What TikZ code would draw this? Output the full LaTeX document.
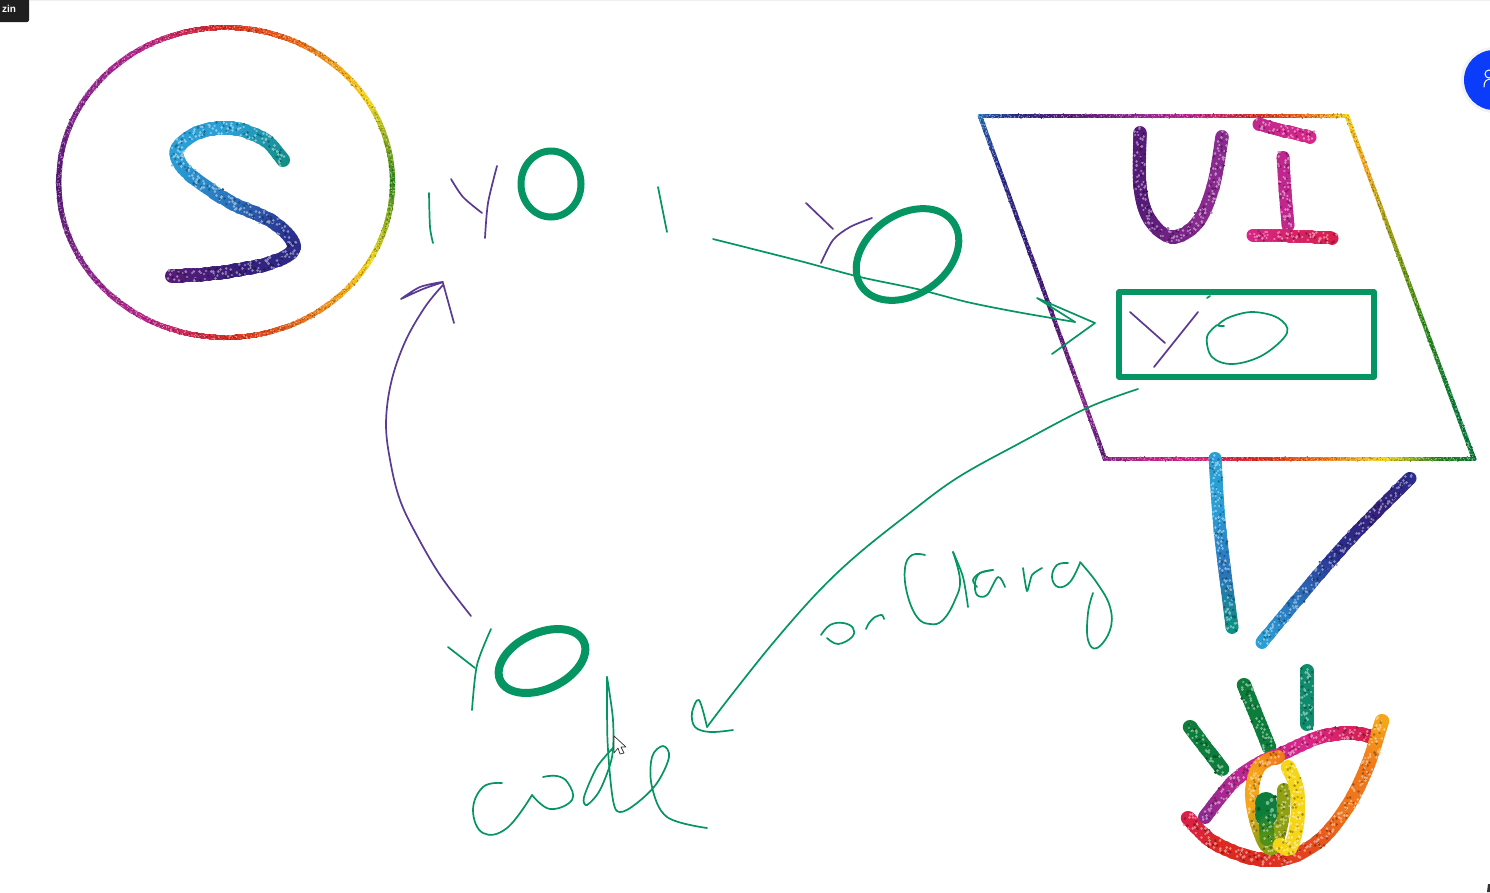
\documentclass[tikz,border=0pt]{standalone}
\usepackage{fontspec}
\setmainfont{Liberation Sans}
\definecolor{gdkpurple}{HTML}{561A78}
\definecolor{gpurple}{HTML}{8A2A90}
\definecolor{gmagenta}{HTML}{BF278F}
\definecolor{gpink}{HTML}{D8268A}
\definecolor{gcrimson}{HTML}{D81F4E}
\definecolor{gred}{HTML}{DD2A20}
\definecolor{gredor}{HTML}{E44A1D}
\definecolor{gorange}{HTML}{EF761A}
\definecolor{gamber}{HTML}{F5A51A}
\definecolor{gyellow}{HTML}{F5D516}
\definecolor{golive}{HTML}{8FA012}
\definecolor{ggreen}{HTML}{2F8A1E}
\definecolor{ggrnol}{HTML}{4F9018}
\definecolor{gdkgreen}{HTML}{0C7D3A}
\definecolor{gteal}{HTML}{0F8F85}
\definecolor{gtealgr}{HTML}{0E8A6C}
\definecolor{gcyan}{HTML}{2A9FD6}
\definecolor{gblue}{HTML}{2A75BD}
\definecolor{gnavy}{HTML}{2A2F8F}
\definecolor{gindigo}{HTML}{35207A}
\definecolor{inkgreen}{HTML}{059562}
\definecolor{inkpurple}{HTML}{5A3A92}
\definecolor{zoomblue}{HTML}{0A3CFA}
\tikzset{
  penline/.style={line width=1.7pt,line cap=round,line join=round},
  greenpen/.style={penline,draw=inkgreen},
  purplepen/.style={penline,draw=inkpurple},
  fatgreen/.style={draw=inkgreen,line width=7pt,line join=round,line cap=round},
}
% glitter strokes: spline through points, colour running along the list of colours
\newcommand\glitcolour{%
  \pgfmathtruncatemacro\gi{min(int(\gp),\gcnum-1)}%
  \pgfmathtruncatemacro\gj{\gi+1}%
  \pgfmathtruncatemacro\gq{max(0,min(100,100-100*(\gp-\gi)))}%
  \edef\gmix{\csname gcn\gi\endcsname!\gq!\csname gcn\gj\endcsname}%
  \colorlet{gcur}{\gmix}%
}
\newcommand\glitdisc{\draw[gcur] (\hx,\hy) -- ++(0.02,0);}
\newcommand\glitspeck{%
  \pgfmathsetmacro\pax{\hx+(rnd-.5)*\gw*.85}\pgfmathsetmacro\pay{\hy+(rnd-.5)*\gw*.85}%
  \pgfmathsetmacro\pbx{\hx+(rnd-.5)*\gw*.85}\pgfmathsetmacro\pby{\hy+(rnd-.5)*\gw*.85}%
  \draw[gcur!70!black] (\pax,\pay) -- ++(0.02,0);
  \ifdim\gw pt>8pt
    \pgfmathsetmacro\pcx{\hx+(rnd-.5)*\gw*.85}\pgfmathsetmacro\pcy{\hy+(rnd-.5)*\gw*.85}%
    \draw[gcur!55!white] (\pbx,\pby) -- ++(0.02,0) (\pcx,\pcy) -- ++(0.02,0);
  \else
    \draw[gcur!55!white] (\pbx,\pby) -- ++(0.02,0);
  \fi}
\newcommand\glitrun[1]{%
  \xdef\gsofar{0}%
  \foreach \k in {1,...,\gnm}{%
    \pgfmathtruncatemacro\ka{\k-1}\pgfmathtruncatemacro\kc{\k+1}\pgfmathtruncatemacro\kd{\k+2}%
    \edef\xb{\csname gx\k\endcsname}\edef\yb{\csname gy\k\endcsname}%
    \pgfmathsetmacro\ax{\csname gx\ka\endcsname-\xb}\pgfmathsetmacro\ay{\csname gy\ka\endcsname-\yb}%
    \pgfmathsetmacro\cx{\csname gx\kc\endcsname-\xb}\pgfmathsetmacro\cy{\csname gy\kc\endcsname-\yb}%
    \pgfmathsetmacro\dx{\csname gx\kd\endcsname-\xb}\pgfmathsetmacro\dy{\csname gy\kd\endcsname-\yb}%
    \pgfmathsetmacro\gd{veclen(\cx,\cy)}%
    \pgfmathtruncatemacro\gN{max(1,round(\gd/\gstep))}%
    \foreach \m in {0,...,\gN}{%
      \pgfmathsetmacro\gt{\m/\gN}%
      \pgfmathsetmacro\hx{\xb+.5*((\cx-\ax)*\gt+(2*\ax+4*\cx-\dx)*\gt*\gt+(\dx-\ax-3*\cx)*\gt*\gt*\gt)}%
      \pgfmathsetmacro\hy{\yb+.5*((\cy-\ay)*\gt+(2*\ay+4*\cy-\dy)*\gt*\gt+(\dy-\ay-3*\cy)*\gt*\gt*\gt)}%
      \pgfmathsetmacro\gp{(\gsofar+\gd*\gt)/\gL*\gcnum}%
      \glitcolour #1%
    }%
    \pgfmathsetmacro\gtmp{\gsofar+\gd}\xdef\gsofar{\gtmp}%
  }%
}
\newcommand\glit[3]{%
  \def\gw{#1}\pgfmathsetmacro\gs{0.7+#1*0.14}%
  \pgfmathsetmacro\gstep{max(1.7,#1/4)}%
  \foreach \c [count=\i from 0] in {#2} {\expandafter\xdef\csname gcn\i\endcsname{\c}\xdef\gcnum{\i}}%
  \edef\glist{#3}%
  \foreach \px/\py [count=\k from 1] in \glist {%
    \expandafter\xdef\csname gx\k\endcsname{\px}\expandafter\xdef\csname gy\k\endcsname{\py}\xdef\gnp{\k}}%
  \expandafter\xdef\csname gx0\endcsname{\csname gx1\endcsname}%
  \expandafter\xdef\csname gy0\endcsname{\csname gy1\endcsname}%
  \pgfmathtruncatemacro\gnq{\gnp+1}\pgfmathtruncatemacro\gnm{\gnp-1}%
  \expandafter\xdef\csname gx\gnq\endcsname{\csname gx\gnp\endcsname}%
  \expandafter\xdef\csname gy\gnq\endcsname{\csname gy\gnp\endcsname}%
  \xdef\gL{0}%
  \foreach \k in {1,...,\gnm}{%
    \pgfmathtruncatemacro\kc{\k+1}%
    \pgfmathsetmacro\gtmp{\gL+veclen(\csname gx\kc\endcsname-\csname gx\k\endcsname,\csname gy\kc\endcsname-\csname gy\k\endcsname)}%
    \xdef\gL{\gtmp}}%
  \begin{scope}[line cap=round,line width=#1 pt]\glitrun{\glitdisc}\end{scope}%
  \begin{scope}[line cap=round,line width=\gs pt]\glitrun{\glitspeck}\end{scope}%
}
\begin{document}
\begin{tikzpicture}[x=1pt,y=-1pt]
\pgfmathsetseed{7}
\clip[use as bounding box] (0,0) rectangle (1490,892);
\fill[white] (0,0) rectangle (1490,892);
\draw[gray!12,line width=.8pt] (29,0.5) -- (1490,0.5);
% top-left badge
\fill[black!88,rounded corners=2pt] (-5,-5) rectangle (29,22);
\node[text=white,font=\bfseries\fontsize{10}{12}\selectfont,inner sep=0pt] (badge) at (9,8.5) {zin};
% blue round button
\fill[gray!10] (1494,80) circle (33);
\fill[zoomblue] (1494,80) circle (30);
\draw[white,line width=1pt] (1489,74) circle (4);
\draw[white,line width=1pt,line cap=round] (1484,87) .. controls (1484,81) and (1486,80) .. (1490,79);
% S circle
\xdef\circlist{58.5/182.5}
\foreach \a in {10,20,...,360}{%
  \pgfmathsetmacro\qx{225.5-167*cos(\a)}\pgfmathsetmacro\qy{182.5-155*sin(\a)}%
  \xdef\circlist{\circlist,\qx/\qy}}
\glit{5.5}{gdkpurple,gpurple,gmagenta,gred,gorange,gyellow,ggreen,gyellow,gorange,gred,gmagenta,gpurple,gdkpurple}{\circlist}
\glit{14}{gteal,gcyan,gcyan,gblue,gnavy,gindigo,gdkpurple}
  {283/160,265/140,232/128,200/132,180/145,177/157,190/175,230/202,273/222,294/247,270/263,217/273,172/276}
% UI panel
\glit{4.5}{gblue,gnavy,gdkpurple,gpurple,gmagenta,gred,gorange,gyellow}{980/116,1347/116}
\glit{4.5}{gblue,gnavy,gindigo,gdkpurple,gpurple,gdkpurple}{980/116,1105/459}
\glit{4.5}{gyellow,gamber,golive,ggreen,gdkgreen,gdkgreen}{1347/116,1474/459}
\glit{4.5}{gpurple,gmagenta,gpink,gred,gorange,gyellow,ggreen,gdkgreen}{1105/459,1474/459}
\glit{13.5}{gdkpurple,gdkpurple,gpurple,gpurple}{1140/133,1140/187,1150/220,1172/237,1197/223,1213/187,1222/137}
\glit{13}{gmagenta,gpink}{1259/124,1285/131,1310/137}
\glit{13}{gmagenta,gmagenta}{1283/157,1285/190,1288/225}
\glit{13}{gpink,gcrimson}{1253/235,1290/236,1332/238}
% input box
\draw[draw=inkgreen,line width=5.5pt,line join=round] (1119,292) rectangle (1374,377);
\draw[greenpen] (1207,298) -- (1210,296);
\draw[purplepen] (1130,312) -- (1165,343);
\draw[purplepen] (1198,312) -- (1154,367);
\draw[greenpen] plot[smooth,tension=.6] coordinates {(1217,325)(1207,337)(1212,357)(1233,364)(1263,355)(1287,333)(1278,318)(1253,312)(1230,317)(1218,325)(1224,326)};
% stand
\glit{13}{gcyan,gcyan,gblue,gteal}{1215/458,1220/530,1232/627}
\glit{13}{gnavy,gindigo,gnavy,gblue,gcyan}{1410/478,1340/550,1262/642}
% eye
\glit{14.5}{gdkgreen,gdkgreen}{1190/727,1222/769}
\glit{14.5}{gdkgreen,gdkgreen}{1244/685,1269/747}
\glit{14}{gtealgr,gtealgr}{1307/671,1307/724}
\glit{14}{gpurple,gmagenta,gpink,gcrimson}{1205/817,1233/782,1260/763,1283/753,1320/737,1350/733,1370/736}
\glit{14.5}{gcrimson,gred,gred,gredor,gorange,gorange,gamber}{1188/818,1213/842,1253/858,1287/858,1320/840,1347/807,1367/767,1382/721}
\glit{14}{gorange,gamber,gamber,golive,golive,golive}{1278/757,1260/765,1252/790,1256/820,1266/845,1275/845,1282/820,1284/790}
\glit{14.5}{gyellow,gyellow}{1288/767,1297/790,1297/823,1290/848,1280/845}
\glit{22}{gdkgreen,gdkgreen}{1266/803,1266/815}
\glit{15}{gdkgreen,ggrnol}{1266/818,1267/838}
% first Y O group
\draw[greenpen] plot[smooth] coordinates {(429,193)(430,227)(433,243)};
\draw[purplepen] plot[smooth] coordinates {(451,179)(463,197)(482,213)};
\draw[purplepen] plot[smooth] coordinates {(497,166)(488,203)(485,238)};
\draw[fatgreen] (551,184) ellipse (30 and 33);
\draw[greenpen] (658,187) -- (667,232);
% second Y O
\draw[purplepen] (806,203) -- (833,229);
\draw[purplepen] plot[smooth] coordinates {(872,218)(850,227)(833,240)(821,263)};
\draw[fatgreen] (907.5,254.5) ellipse [x radius=56,y radius=40,rotate=35];
% arrow into the box
\draw[greenpen] plot[smooth,tension=.5] coordinates {(713,239)(800,261)(860,277)(917,289)(967,302)(1017,312)(1075,322)};
\draw[greenpen] (1075,322) -- (1037,298) -- (1095,323) -- (1052,354);
% onChange arrow
\draw[greenpen] plot[smooth,tension=.6] coordinates {(1138,389)(1087,408)(1020,443)(957,478)(907,515)(857,555)(817,593)(773,643)(733,693)(707,727)};
\draw[greenpen] plot[smooth,tension=.6] coordinates {(707,727)(699,700)(692,713)(695,727)(710,732)(733,730)};
% purple arrow
\draw[purplepen] plot[smooth,tension=.6] coordinates {(471,616)(440,575)(415,532)(400,500)(391,465)(386,425)(391,383)(405,342)(425,307)(443,285)};
\draw[purplepen] plot[smooth,tension=.5] coordinates {(401,299)(420,287)(443,282)(423,289)(401,299)};
\draw[purplepen] (443,283) -- (454,323);
% bottom Y O
\draw[greenpen] (448,647) -- (475,668);
\draw[greenpen] plot[smooth] coordinates {(491,629)(477,665)(472,710)};
\draw[fatgreen,line width=8pt] (542,661) ellipse [x radius=46,y radius=28,rotate=25];
% code
\draw[greenpen] plot[smooth,tension=.7] coordinates {(502,783)(483,787)(473,810)(483,833)(507,828)(532,795)};
\draw[greenpen] plot[smooth,tension=.7] coordinates {(532,795)(550,809)(572,800)(568,783)(557,776)(543,777)};
\draw[greenpen] plot[smooth,tension=.5] coordinates {(613,748)(597,767)(584,797)(587,805)(600,790)(612,757)(613,720)(607,677)};
\draw[greenpen] plot[smooth,tension=.6] coordinates {(607,677)(607,710)(608,750)(613,800)(620,812)(637,803)(657,783)(669,757)(663,746)(652,757)(652,787)(667,817)(707,828)};
% on Chang
\draw[greenpen] plot[smooth,tension=.7] coordinates {(821,635)(830,625)(843,623)(853,628)(852,637)(838,644)(827,638)};
\draw[greenpen] plot[smooth,tension=.5] coordinates {(866,629)(869,623)(875,617)(882,615)(884,619)};
\draw[greenpen] plot[smooth,tension=.7] coordinates {(925,555)(912,555)(905,568)(907,593)(917,617)(930,624)(943,620)(955,600)(960,580)(953,552)};
\draw[greenpen] plot[smooth] coordinates {(953,552)(963,577)(968,607)};
\draw[greenpen] plot[smooth,tension=.6] coordinates {(977,587)(973,580)(980,573)(993,570)};
\draw[greenpen] plot[smooth,tension=.6] coordinates {(993,570)(980,573)(975,583)(977,595)(987,595)(998,577)(1005,587)};
\draw[greenpen] plot[smooth,tension=.4] coordinates {(1023,568)(1027,591)(1032,575)(1042,568)};
\draw[greenpen] plot[smooth,tension=.7] coordinates {(1068,563)(1057,565)(1052,577)(1058,587)(1070,582)(1080,563)};
\draw[greenpen] plot[smooth,tension=.7] coordinates {(1080,562)(1097,583)(1110,607)(1110,630)(1097,648)(1088,640)(1088,613)(1093,593)};
% mouse pointer
\draw[black!80,fill=white,line width=.7pt,line join=round] (614,736) -- (626,747) -- (621,747) -- (624,753) -- (620,754) -- (618,748) -- (614,753) -- cycle;
\fill[black!80] (1487,892) -- (1488,884) -- (1490,884) -- (1490,892) -- cycle;
\end{tikzpicture}
\end{document}
